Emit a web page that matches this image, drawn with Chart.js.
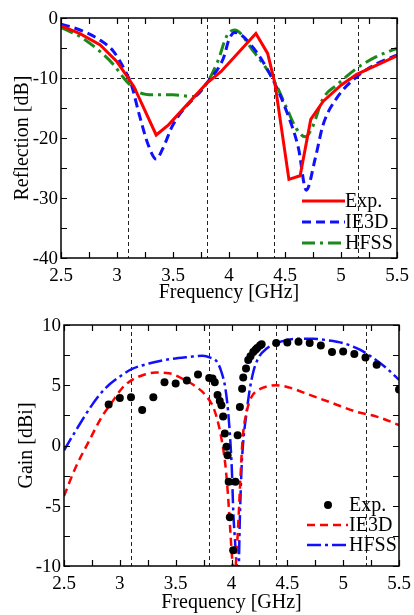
<!DOCTYPE html>
<html>
<head>
<meta charset="utf-8">
<script src="https://cdn.jsdelivr.net/npm/chart.js@4.4.0/dist/chart.umd.min.js"></script>
<style>
  body { margin: 0; background: #fff; }
  .box { position: absolute; left: 0; width: 414px; }
</style>
</head>
<body>
<div class="box" style="top:0;height:305px"><canvas id="reflChart" width="414" height="305"></canvas></div>
<div class="box" style="top:305px;height:310px"><canvas id="gainChart" width="414" height="310"></canvas></div>
<script>
// ---- Reflection (top) ----
var reflExpFreq = [2.5, 2.67, 2.85, 3.0, 3.1, 3.15, 3.35, 3.46, 3.8, 3.93, 4.24, 4.345, 4.41, 4.535, 4.635, 4.73, 4.84, 5.0, 5.14, 5.5];
var reflExp = [-1.3, -2.6, -4.5, -7.3, -10.0, -11.4, -19.5, -17.8, -10.9, -8.9, -2.6, -5.9, -10.9, -26.9, -26.3, -16.9, -13.9, -11.2, -9.4, -6.3];

var reflIe3dFreq = [2.5, 2.67, 2.85, 2.97, 3.07, 3.13, 3.2, 3.28, 3.35, 3.41, 3.5, 3.8, 3.95, 4.0, 4.05, 4.22, 4.4, 4.515, 4.62, 4.69, 4.77, 4.84, 4.96, 5.14, 5.32, 5.5];
var reflIe3d = [-1.05, -2.0, -3.7, -5.6, -8.7, -11.2, -16.2, -21.2, -23.5, -21.7, -17.8, -10.9, -6.7, -3.6, -2.4, -5.05, -10.6, -15.6, -21.7, -28.7, -23.4, -17.8, -13.4, -9.8, -7.6, -6.2];

var reflHfssFreq = [2.5, 2.67, 2.85, 2.97, 3.06, 3.13, 3.2, 3.32, 3.5, 3.68, 3.8, 3.9, 3.98, 4.05, 4.22, 4.4, 4.515, 4.6, 4.68, 4.74, 4.84, 4.96, 5.14, 5.32, 5.5];
var reflHfss = [-1.6, -3.1, -5.6, -7.8, -10.0, -11.4, -12.4, -12.8, -12.8, -13.1, -10.9, -7.2, -3.0, -2.0, -5.6, -10.4, -15.0, -18.4, -19.8, -18.4, -13.4, -11.2, -8.4, -6.4, -5.05];

var reflMarkers = [3.1, 3.8, 4.4, 5.15];
var reflLevel = [-10];

// ---- Gain (bottom) ----
var gainExpFreq = [2.9, 3.0, 3.1, 3.2, 3.3, 3.4, 3.5, 3.6, 3.7, 3.8, 3.83, 3.85, 3.875, 3.895, 3.91, 3.925, 3.94, 3.955, 3.965, 3.975, 3.985, 4.015, 4.035, 4.055, 4.075, 4.095, 4.105, 4.13, 4.15, 4.17, 4.195, 4.215, 4.23, 4.255, 4.27, 4.4, 4.5, 4.6, 4.7, 4.8, 4.9, 5.0, 5.1, 5.2, 5.3, 5.5];
var gainExp = [3.4, 3.95, 4.0, 2.95, 4.0, 5.25, 5.15, 5.4, 5.9, 5.6, 5.55, 5.25, 4.2, 3.7, 3.35, 2.4, 1.0, -0.1, -0.8, -3.0, -5.95, -8.7, -3.0, 0.85, 3.2, 4.7, 5.65, 6.4, 7.1, 7.4, 7.75, 7.95, 8.1, 8.3, 8.4, 8.5, 8.55, 8.6, 8.5, 8.3, 7.75, 7.8, 7.6, 7.3, 6.7, 4.65];

var gainIe3dFreq = [2.5, 2.6, 2.72, 2.84, 2.93, 3.02, 3.11, 3.21, 3.32, 3.44, 3.56, 3.68, 3.765, 3.84, 3.885, 3.915, 3.945, 3.966, 3.986, 4.005, 4.025, 4.045, 4.06, 4.08, 4.1, 4.136, 4.18, 4.24, 4.315, 4.405, 4.52, 4.7, 4.91, 5.12, 5.3, 5.5];
var gainIe3d = [-4.2, -1.9, 0.3, 2.4, 3.6, 4.75, 5.45, 5.85, 6.05, 6.0, 5.55, 4.9, 4.2, 3.1, 1.7, 0.3, -1.6, -3.8, -6.6, -9.3, -11, -9, -6.6, -2.7, 0.6, 2.8, 4.05, 4.6, 4.9, 5.0, 4.8, 4.2, 3.5, 2.8, 2.4, 1.7];

var gainHfssFreq = [2.5, 2.6, 2.75, 2.87, 3.02, 3.11, 3.26, 3.44, 3.62, 3.74, 3.81, 3.87, 3.91, 3.945, 3.97, 3.99, 4.004, 4.016, 4.03, 4.046, 4.06, 4.075, 4.09, 4.105, 4.136, 4.16, 4.195, 4.24, 4.315, 4.434, 4.58, 4.73, 4.85, 5.0, 5.15, 5.27, 5.39, 5.5];
var gainHfss = [-0.4, 1.15, 3.35, 4.75, 5.85, 6.35, 6.8, 7.15, 7.35, 7.45, 7.3, 6.95, 6.1, 4.75, 2.8, 0.3, -2.2, -5.5, -7.7, -9.9, -11.5, -6, -1.9, 0.3, 2.8, 4.45, 6.1, 7.25, 8.05, 8.6, 8.85, 8.85, 8.75, 8.5, 7.95, 7.25, 6.4, 5.45];

var gainMarkers = [3.1, 3.8, 4.4, 5.2];

var RED = '#ff0000', BLUE = '#1010ff', GREEN = '#1a8a1a';
var serif = '"Liberation Serif", "DejaVu Serif", serif';

const toPoints = (xs, ys) => xs.map((x, i) => ({ x: x, y: ys[i] }));

// dashed guide lines, frame, inward ticks on all four sides, y labels
const framePlugin = {
    id: 'frame',
    beforeDatasetsDraw(chart, args, opts) {
        const { ctx, chartArea: a, scales: { x, y } } = chart;
        ctx.save();
        ctx.strokeStyle = '#222';
        ctx.lineWidth = 1;
        ctx.setLineDash([4, 3]);
        for (const v of (opts.vLines || [])) {
            const px = Math.round(x.getPixelForValue(v)) + 0.5;
            ctx.beginPath(); ctx.moveTo(px, a.top); ctx.lineTo(px, a.bottom); ctx.stroke();
        }
        for (const v of (opts.hLines || [])) {
            const py = Math.round(y.getPixelForValue(v)) + 0.5;
            ctx.beginPath(); ctx.moveTo(a.left, py); ctx.lineTo(a.right, py); ctx.stroke();
        }
        ctx.restore();
    },
    afterDatasetsDraw(chart, args, opts) {
        const { ctx, chartArea: a, scales: { x, y } } = chart;
        const len = 6;
        ctx.save();
        ctx.strokeStyle = '#000';
        ctx.lineWidth = 1.2;
        ctx.setLineDash([]);
        ctx.beginPath();
        for (const t of x.ticks) {
            const px = Math.round(x.getPixelForValue(t.value)) + 0.5;
            ctx.moveTo(px, a.bottom); ctx.lineTo(px, a.bottom - len);
            ctx.moveTo(px, a.top); ctx.lineTo(px, a.top + len);
        }
        for (const t of y.ticks) {
            const py = Math.round(y.getPixelForValue(t.value)) + 0.5;
            ctx.moveTo(a.left, py); ctx.lineTo(a.left + len, py);
            ctx.moveTo(a.right, py); ctx.lineTo(a.right - len, py);
        }
        ctx.stroke();
        ctx.lineWidth = 1.5;
        ctx.strokeRect(a.left, a.top, a.right - a.left, a.bottom - a.top);

        // y tick labels
        ctx.font = '19px ' + serif;
        ctx.fillStyle = '#000';
        ctx.textAlign = 'right';
        ctx.textBaseline = 'middle';
        for (const t of y.ticks) {
            if (Math.abs(t.value % opts.yLabelEvery) > 1e-9) continue;
            ctx.fillText(String(t.value), a.left - 3, y.getPixelForValue(t.value) + 1);
        }
        ctx.restore();
    }
};

// legend drawn inside the plot, bottom right
const boxLegend = {
    id: 'boxLegend',
    afterDraw(chart, args, opts) {
        const ctx = chart.ctx;
        ctx.save();
        ctx.font = '20px ' + serif;
        ctx.fillStyle = '#000';
        ctx.textBaseline = 'middle';
        chart.data.datasets.forEach((ds, i) => {
            const yy = opts.y0 + i * opts.dy;
            if (ds.showLine === false) {
                ctx.beginPath();
                ctx.fillStyle = ds.pointBackgroundColor;
                ctx.arc(opts.dotX, yy, ds.pointRadius, 0, Math.PI * 2);
                ctx.fill();
            } else {
                ctx.beginPath();
                ctx.strokeStyle = ds.borderColor;
                ctx.lineWidth = ds.borderWidth;
                ctx.setLineDash(ds.borderDash || []);
                ctx.moveTo(opts.x1, yy); ctx.lineTo(opts.x2, yy);
                ctx.stroke();
            }
            ctx.fillStyle = '#000';
            ctx.fillText(ds.label, opts.textX, yy + 1);
        });
        ctx.restore();
    }
};

const tickFont = { family: serif, size: 19 };
const titleFont = { family: serif, size: 20 };

function makeScales(yMin, yMax, yStep, yTitle, yWidth, xHeight, yTitlePad) {
    return {
        x: {
            type: 'linear', min: 2.5, max: 5.5,
            afterFit: (s) => { s.height = xHeight; },
            grid: { display: false }, border: { display: false },
            ticks: {
                stepSize: 0.25, autoSkip: false, maxRotation: 0, padding: -1, color: '#000', font: tickFont,
                callback: (v) => Math.round(v * 4) % 2 === 0 ? v : ''
            },
            title: { display: true, text: 'Frequency [GHz]', color: '#000', font: titleFont, padding: { top: 0, bottom: 0 } }
        },
        y: {
            min: yMin, max: yMax,
            afterFit: (s) => { s.width = yWidth; },
            grid: { display: false }, border: { display: false },
            ticks: { stepSize: yStep, autoSkip: false, display: false },
            title: { display: true, text: yTitle, color: '#000', font: titleFont, padding: { top: yTitlePad, bottom: 0 } }
        }
    };
}

var reflConfig = {
    type: 'line',
    data: {
        datasets: [{
            label: 'Exp.', data: toPoints(reflExpFreq, reflExp),
            borderColor: RED, borderWidth: 3, pointRadius: 0, tension: 0
        }, {
            label: 'IE3D', data: toPoints(reflIe3dFreq, reflIe3d),
            borderColor: BLUE, borderWidth: 3, borderDash: [9, 5], pointRadius: 0, cubicInterpolationMode: 'monotone'
        }, {
            label: 'HFSS', data: toPoints(reflHfssFreq, reflHfss),
            borderColor: GREEN, borderWidth: 3, borderDash: [13, 5, 3, 5], pointRadius: 0, cubicInterpolationMode: 'monotone'
        }]
    },
    options: {
        responsive: false, animation: false,
        layout: { padding: { top: 18, right: 17, left: 0, bottom: 0 } },
        scales: makeScales(-40, 0, 5, 'Reflection [dB]', 61, 47, 11),
        plugins: {
            legend: { display: false }, tooltip: { enabled: false },
            frame: { vLines: reflMarkers, hLines: reflLevel, yLabelEvery: 10 },
            boxLegend: { y0: 201, dy: 21, x1: 302, x2: 345, textX: 345, dotX: 323 }
        }
    },
    plugins: [framePlugin, boxLegend]
};

var gainConfig = {
    type: 'line',
    data: {
        datasets: [{
            label: 'Exp.', data: toPoints(gainExpFreq, gainExp), showLine: false,
            pointRadius: 4, pointBackgroundColor: '#000', pointBorderWidth: 0, borderColor: '#000'
        }, {
            label: 'IE3D', data: toPoints(gainIe3dFreq, gainIe3d),
            borderColor: RED, borderWidth: 2.5, borderDash: [8, 5], pointRadius: 0, cubicInterpolationMode: 'monotone'
        }, {
            label: 'HFSS', data: toPoints(gainHfssFreq, gainHfss),
            borderColor: BLUE, borderWidth: 2.5, borderDash: [14, 4, 3, 4], pointRadius: 0, cubicInterpolationMode: 'monotone'
        }]
    },
    options: {
        responsive: false, animation: false,
        layout: { padding: { top: 20, right: 15, left: 0, bottom: 0 } },
        scales: makeScales(-10, 10, 2.5, 'Gain [dBi]', 64, 49, 15),
        plugins: {
            legend: { display: false }, tooltip: { enabled: false },
            frame: { vLines: gainMarkers, yLabelEvery: 5 },
            boxLegend: { y0: 200, dy: 20, x1: 307, x2: 348, textX: 349, dotX: 328 }
        }
    },
    plugins: [framePlugin, boxLegend]
};

window.reflChart = new Chart(document.getElementById('reflChart'), reflConfig);
window.gainChart = new Chart(document.getElementById('gainChart'), gainConfig);
</script>
</body>
</html>
